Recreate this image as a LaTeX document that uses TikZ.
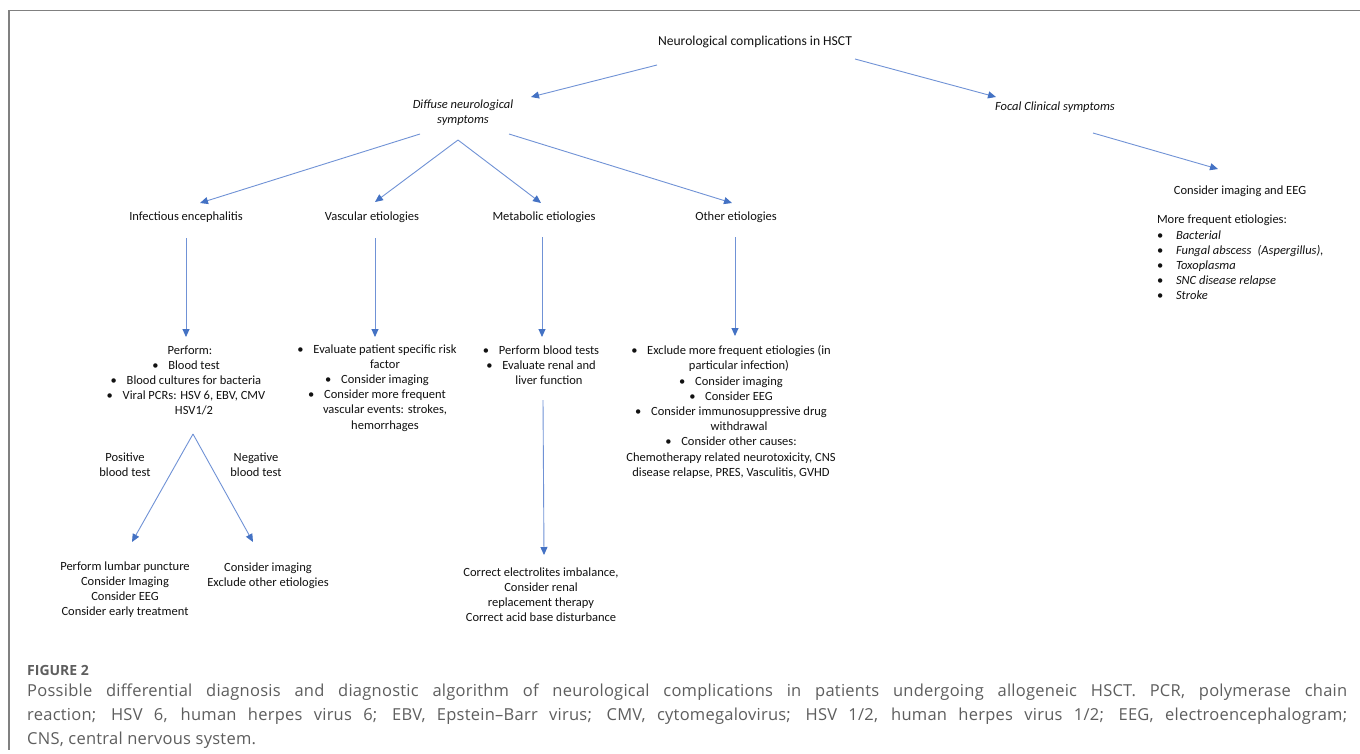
\documentclass[tikz,border=0pt]{standalone}
\usepackage{fontspec}
\setmainfont{Carlito}
\newfontfamily\capfont[LetterSpace=1.5]{Open Sans}
\newfontfamily\capfontb{Open Sans}
\usetikzlibrary{arrows.meta}
\definecolor{arrline}{HTML}{7092D6}
\definecolor{arrhead}{HTML}{4472C4}
\definecolor{txt}{HTML}{111111}
\definecolor{capgray}{HTML}{5E5E5E}
\definecolor{framegray}{HTML}{808080}
\newcommand{\bul}[1][16pt]{\makebox[#1][l]{\textbullet}}
\newcommand{\ind}{\hspace*{16pt}}
\begin{document}
\begin{tikzpicture}[x=1pt,y=-1pt,
  lbl/.style={inner sep=0pt, outer sep=0pt, text=txt, font=\fontsize{12.5}{15.2}\selectfont, align=center},
  itlbl/.style={lbl, font=\fontsize{12.5}{15.2}\selectfont\itshape},
  arr/.style={draw=arrline, line width=0.9pt, -{Triangle[length=8pt,width=7pt,color=arrhead]}},
  captext/.style={anchor=base west, inner sep=0pt, text=capgray, font=\capfont\fontsize{16.5}{20}\selectfont},
]
\useasboundingbox (0,0) rectangle (1360,753);
\fill[white] (0,0) rectangle (1360,753);
\draw[framegray, line width=1.4pt] (1360,10.7) -- (9,10.7) -- (9,750);

% nodes
\node[lbl, font=\fontsize{13.6}{16}\selectfont] (title) at (755,42) {Neurological complications in HSCT};
\node[itlbl] (diffuse) at (463,113) {Diffuse neurological\\symptoms};
\node[itlbl] (focal) at (1055,107) {Focal Clinical symptoms};
\node[lbl] (cimg) at (1240,191) {Consider imaging and EEG};
\node[lbl, align=left, anchor=west] (freq) at (1157,257.5) {More frequent etiologies:\\
  \bul[19pt]\textit{Bacterial}\\
  \bul[19pt]\textit{Fungal abscess\hspace{0.5em}(Aspergillus),}\\
  \bul[19pt]\textit{Toxoplasma}\\
  \bul[19pt]\textit{SNC disease relapse}\\
  \bul[19pt]\textit{Stroke}};

\node[lbl] (infect) at (186,217) {Infectious encephalitis};
\node[lbl] (vasc) at (372,217) {Vascular etiologies};
\node[lbl] (metab) at (544,217) {Metabolic etiologies};
\node[lbl] (other) at (736,217) {Other etiologies};

\node[lbl] (perform) at (186,380.5) {\hspace*{8pt}Perform:\\ \bul Blood test\\ \bul Blood cultures for bacteria\\ \bul Viral PCRs: HSV 6, EBV, CMV\\ \ind HSV1/2};
\node[lbl] (vbox) at (377,387.8) {\bul Evaluate patient specific risk\\ \ind factor\\ \bul Consider imaging\\ \bul Consider more frequent\\ \ind vascular events: strokes,\\ \ind hemorrhages};
\node[lbl] (mbox) at (541,365) {\bul Perform blood tests\\ \bul Evaluate renal and\\ \ind liver function};
\node[lbl] (obox) at (731,412) {\bul Exclude more frequent etiologies (in\\ \ind particular infection)\\ \bul Consider imaging\\ \bul Consider EEG\\ \bul Consider immunosuppressive drug\\ \ind withdrawal\\ \bul Consider other causes:\\ Chemotherapy related neurotoxicity, CNS\\ disease relapse, PRES, Vasculitis, GVHD};

\node[lbl] (pos) at (125,464.5) {Positive\\blood test};
\node[lbl] (neg) at (256,464.5) {Negative\\blood test};
\node[lbl] (lumbar) at (125,589.5) {Perform lumbar puncture\\Consider Imaging\\Consider EEG\\Consider early treatment};
\node[lbl] (negres) at (268,576) {Consider imaging\\Exclude other etiologies};
\node[lbl] (correct) at (541,594.5) {Correct electrolites imbalance,\\Consider renal\\replacement therapy\\Correct acid base disturbance};

% connectors
\draw[arr] ([shift={(-98,23)}]title.center) -- ([shift={(68,-16)}]diffuse.center);
\draw[arr] ([shift={(100,17)}]title.center) -- ([shift={(-59,-10)}]focal.center);
\draw[arr] ([shift={(38,26)}]focal.center) -- ([shift={(-22,-22)}]cimg.center);
\draw[arr] ([shift={(-43,21)}]diffuse.center) -- ([shift={(14,-14)}]infect.center);
\draw[arr] ([shift={(-5,27)}]diffuse.center) -- ([shift={(3,-15)}]vasc.center);
\draw[arr] ([shift={(-5,27)}]diffuse.center) -- ([shift={(-3,-14)}]metab.center);
\draw[arr] ([shift={(46,21)}]diffuse.center) -- ([shift={(-4,-14)}]other.center);
\draw[arr] ([shift={(0,21)}]infect.center) -- ([shift={(0,-43.5)}]perform.center);
\draw[arr] ([shift={(3,21)}]vasc.center) -- ([shift={(-2,-50.8)}]vbox.center);
\draw[arr] ([shift={(-2,20)}]metab.center) -- ([shift={(1,-28)}]mbox.center);
\draw[arr] ([shift={(-1,20)}]other.center) -- ([shift={(4,-76)}]obox.center);
\draw[arr] ([shift={(7,53.5)}]perform.center) -- ([shift={(7,-47.5)}]lumbar.center);
\draw[arr] ([shift={(7,53.5)}]perform.center) -- ([shift={(-15,-34)}]negres.center);
\draw[arr] ([shift={(2,35)}]mbox.center) -- ([shift={(3,-39.5)}]correct.center);

% caption
\node[captext, font=\capfontb\bfseries\fontsize{14}{16}\selectfont] (fig) at (27,675) {FIGURE 2};
\node[captext] (cap1) at (27,696) {\makebox[1320pt][s]{Possible differential diagnosis and diagnostic algorithm of neurological complications in patients undergoing allogeneic HSCT. PCR, polymerase chain}};
\node[captext] (cap2) at (27,720) {\makebox[1320pt][s]{reaction; HSV 6, human herpes virus 6; EBV, Epstein–Barr virus; CMV, cytomegalovirus; HSV 1/2, human herpes virus 1/2; EEG, electroencephalogram;}};
\node[captext] (cap3) at (27,744) {CNS, central nervous system.};
\end{tikzpicture}
\end{document}
